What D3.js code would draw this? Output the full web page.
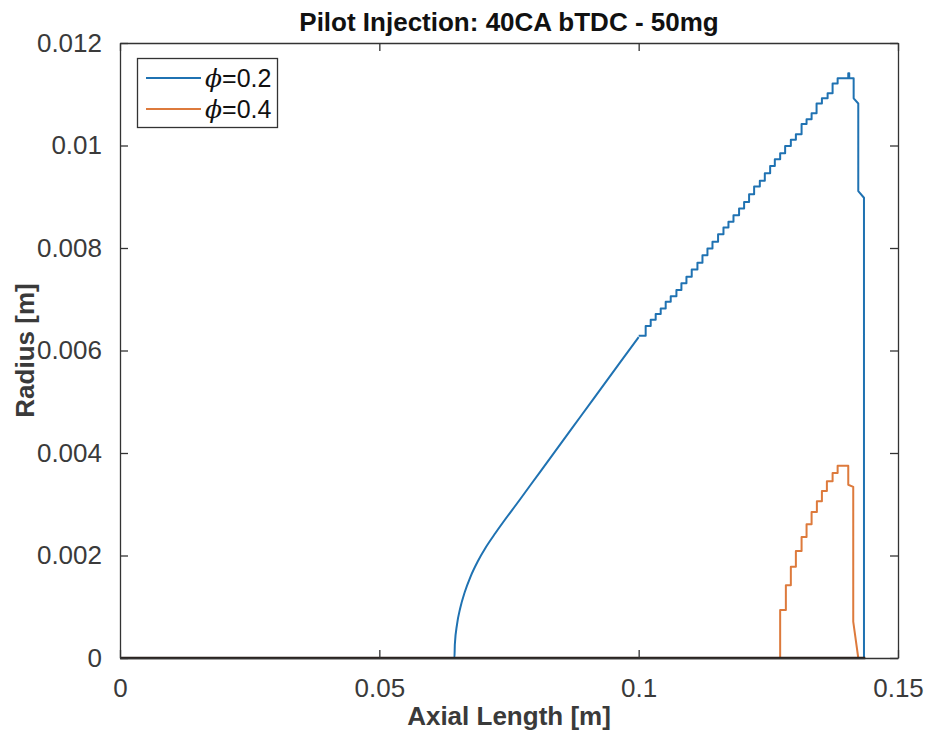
<!DOCTYPE html>
<html>
<head>
<meta charset="utf-8">
<script src="https://cdn.jsdelivr.net/npm/d3@7"></script>
<style>
  body { margin: 0; background: #fff; }
  svg { display: block; }
</style>
</head>
<body>
<svg></svg>
<script>
// Axis ticks
let xTicks = [0, 0.05, 0.1, 0.15];
let yTicks = [0, 0.002, 0.004, 0.006, 0.008, 0.01, 0.012];

// phi = 0.2, smooth rising part
let blueSmoothX = [0, 0.06448, 0.06456, 0.06498, 0.06560, 0.06646, 0.06757, 0.06894, 0.07054, 0.07239, 0.07722, 0.08108, 0.08880, 0.09653, 0.1];
let blueSmoothY = [0, 0, 0.000267, 0.000657, 0.000976, 0.001283, 0.001585, 0.001878, 0.002161, 0.002439, 0.003108, 0.003643, 0.004712, 0.005782, 0.00626];

// phi = 0.2, staircase part (start of each tread)
let blueStepX = [0.1, 0.10135, 0.10232, 0.10328, 0.10425, 0.10521, 0.10618, 0.10728, 0.10824, 0.10921,
  0.11023, 0.11133, 0.11230, 0.11326, 0.11423, 0.11531, 0.11635, 0.11731, 0.11828, 0.11936,
  0.12033, 0.12129, 0.12226, 0.12336, 0.12432, 0.12535, 0.12625, 0.12728, 0.12824, 0.12934,
  0.13031, 0.13141, 0.13237, 0.13334, 0.13430, 0.13533, 0.13643, 0.13739, 0.13836];
let blueStepY = [0.00629, 0.00648, 0.00660, 0.00671, 0.00682, 0.00695, 0.00706, 0.00718, 0.00731, 0.00744,
  0.00758, 0.00771, 0.00786, 0.00799, 0.00812, 0.00827, 0.00840, 0.00851, 0.00864, 0.00877,
  0.00890, 0.00905, 0.00920, 0.00931, 0.00946, 0.00960, 0.00973, 0.00985, 0.00999, 0.01011,
  0.01022, 0.01042, 0.01051, 0.01063, 0.01082, 0.01092, 0.01102, 0.01121, 0.01131];

// phi = 0.2, tail after the peak
let blueTailX = [0.14041, 0.14041, 0.14060, 0.14060, 0.14145, 0.14145, 0.14234, 0.14234, 0.14344, 0.14344];
let blueTailY = [0.01131, 0.01141, 0.01141, 0.01131, 0.01131, 0.01092, 0.01082, 0.00911, 0.00898, 0];

// phi = 0.4, staircase part
let orangeStepX = [0, 0.12728, 0.12838, 0.12934, 0.13031, 0.13141, 0.13237, 0.13334, 0.13436, 0.13533, 0.13629, 0.13739, 0.13836];
let orangeStepY = [0, 0.000937, 0.00142, 0.00178, 0.00209, 0.00236, 0.00261, 0.00285, 0.00306, 0.00326, 0.00345, 0.00361, 0.00375];

// phi = 0.4, tail after the peak
let orangeTailX = [0.14041, 0.14041, 0.14137, 0.14137, 0.14234];
let orangeTailY = [0.00375, 0.00338, 0.00334, 0.00071, 0];

// dark zero line
let baseX = [0, 0.1437];
let baseY = [0, 0];

let legendLabels = ["0.2", "0.4"];
let colors = ["#1f72b2", "#dd7a3c"];

// Layout
let width = 930;
let height = 734;
let margin = { left: 120, right: 32, top: 43, bottom: 76 };
let axisColor = "#333333";
let font = "'Liberation Sans', Arial, Helvetica, sans-serif";

let svg = d3.select("svg").attr("width", width).attr("height", height);

let xScale = d3.scaleLinear().domain([0, 0.15]).range([margin.left, width - margin.right]);
let yScale = d3.scaleLinear().domain([0, 0.012]).range([height - margin.bottom, margin.top]);

let zip = (xs, ys) => xs.map((x, i) => [x, ys[i]]);
let stepCorners = (xs, ys) => {
  let pts = [];
  xs.forEach((x, i) => {
    if (i > 0) pts.push([x, ys[i - 1]]);
    pts.push([x, ys[i]]);
  });
  return pts;
};

let lineLinear = d3.line().x((d) => xScale(d[0])).y((d) => yScale(d[1]));
let lineSmooth = d3.line().x((d) => xScale(d[0])).y((d) => yScale(d[1])).curve(d3.curveMonotoneX);

let plot = svg.append("g");

// blue series
plot.append("path")
  .attr("d", lineSmooth(zip(blueSmoothX, blueSmoothY)))
  .attr("fill", "none").attr("stroke", colors[0]).attr("stroke-width", 2)
  .attr("stroke-linejoin", "round");
plot.append("path")
  .attr("d", lineLinear(stepCorners(blueStepX, blueStepY).concat(zip(blueTailX, blueTailY))))
  .attr("fill", "none").attr("stroke", colors[0]).attr("stroke-width", 2)
  .attr("stroke-linejoin", "round");

// orange series
plot.append("path")
  .attr("d", lineLinear(stepCorners(orangeStepX, orangeStepY).concat(zip(orangeTailX, orangeTailY))))
  .attr("fill", "none").attr("stroke", colors[1]).attr("stroke-width", 2)
  .attr("stroke-linejoin", "round");

// zero line
plot.append("path")
  .attr("d", lineLinear(zip(baseX, baseY)))
  .attr("fill", "none").attr("stroke", "#2a1f1a").attr("stroke-width", 2.5);

// Axes (ticks inside, on all four sides)
let tickLen = 8;
let xAxisB = d3.axisBottom(xScale).tickValues(xTicks).tickSizeInner(-tickLen).tickSizeOuter(0).tickPadding(21).tickFormat(d3.format("~g"));
let xAxisT = d3.axisTop(xScale).tickValues(xTicks).tickSizeInner(-tickLen).tickSizeOuter(0).tickFormat("");
let yAxisL = d3.axisLeft(yScale).tickValues(yTicks).tickSizeInner(-tickLen).tickSizeOuter(0).tickPadding(18).tickFormat(d3.format("~g"));
let yAxisR = d3.axisRight(yScale).tickValues(yTicks).tickSizeInner(-tickLen).tickSizeOuter(0).tickFormat("");

let styleAxis = (g) => {
  g.select(".domain").attr("stroke", axisColor).attr("stroke-width", 1.3);
  g.selectAll(".tick line").attr("stroke", axisColor).attr("stroke-width", 1.3);
  g.selectAll(".tick text").attr("fill", "#3a3a3a").style("font-family", font).style("font-size", "26px");
};

svg.append("g").attr("transform", "translate(0," + (height - margin.bottom) + ")").call(xAxisB).call(styleAxis);
svg.append("g").attr("transform", "translate(0," + margin.top + ")").call(xAxisT).call(styleAxis);
svg.append("g").attr("transform", "translate(" + margin.left + ",0)").call(yAxisL).call(styleAxis);
svg.append("g").attr("transform", "translate(" + (width - margin.right) + ",0)").call(yAxisR).call(styleAxis);

// Title and labels
svg.append("text")
  .attr("x", (margin.left + width - margin.right) / 2).attr("y", 31)
  .attr("text-anchor", "middle").attr("fill", "#111")
  .style("font-family", font).style("font-size", "26px").style("font-weight", "bold")
  .text("Pilot Injection: 40CA bTDC - 50mg");

svg.append("text")
  .attr("x", (margin.left + width - margin.right) / 2).attr("y", 725)
  .attr("text-anchor", "middle").attr("fill", "#3a3a3a")
  .style("font-family", font).style("font-size", "26px").style("font-weight", "bold")
  .text("Axial Length [m]");

svg.append("text")
  .attr("transform", "translate(34," + ((margin.top + height - margin.bottom) / 2) + ") rotate(-90)")
  .attr("text-anchor", "middle").attr("fill", "#3a3a3a")
  .style("font-family", font).style("font-size", "26px").style("font-weight", "bold")
  .text("Radius [m]");

// Legend
let legend = svg.append("g");
legend.append("rect")
  .attr("x", 137.5).attr("y", 58.5).attr("width", 140).attr("height", 69)
  .attr("fill", "#fff").attr("stroke", axisColor).attr("stroke-width", 1.3);

legendLabels.forEach((lab, i) => {
  let y = 78 + i * 31;
  legend.append("line")
    .attr("x1", 146).attr("x2", 201).attr("y1", y).attr("y2", y)
    .attr("stroke", colors[i]).attr("stroke-width", 2);
  let t = legend.append("text")
    .attr("x", 205).attr("y", y + 9)
    .attr("fill", "#111")
    .style("font-family", font).style("font-size", "25px");
  t.append("tspan").style("font-style", "italic").style("font-family", "'DejaVu Serif', serif").text("ϕ");
  t.append("tspan").text("=" + lab);
});
</script>
</body>
</html>
